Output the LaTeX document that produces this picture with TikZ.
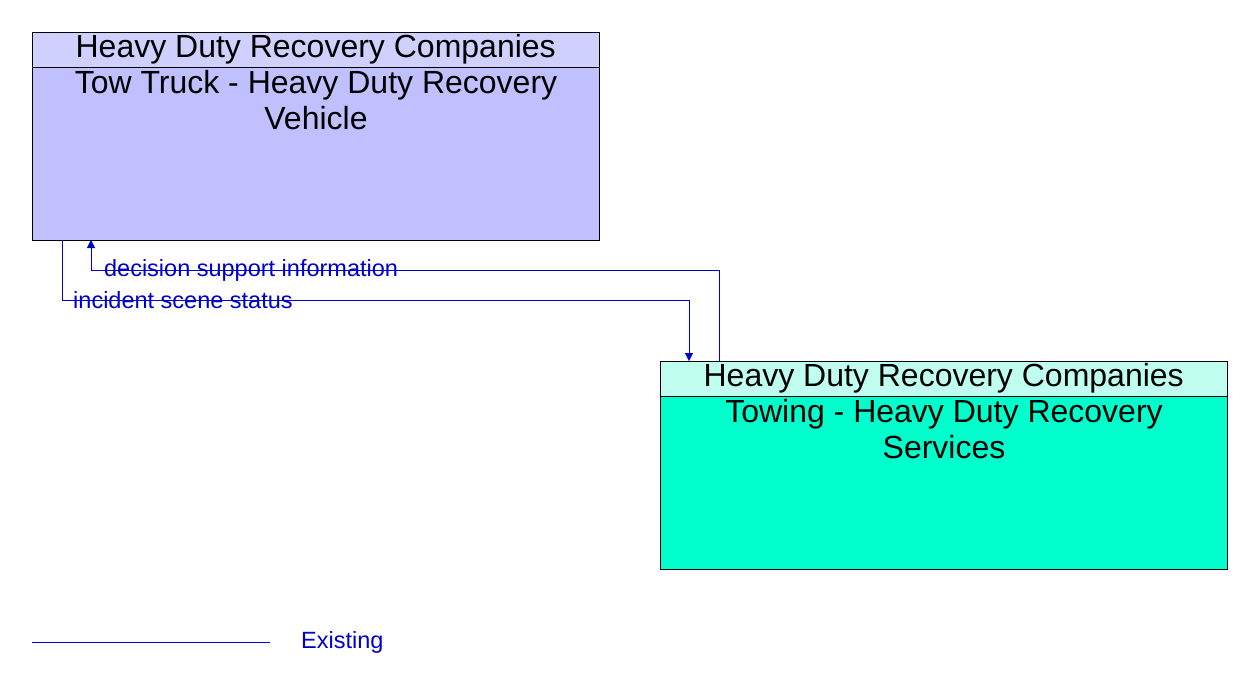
\documentclass[tikz,border=0pt]{standalone}
\usepackage{fontspec}
\setmainfont{Liberation Sans}
\usetikzlibrary{positioning,arrows.meta}
\definecolor{vehhead}{RGB}{208,208,255}
\definecolor{vehbody}{RGB}{192,192,255}
\definecolor{svchead}{RGB}{192,255,240}
\definecolor{svcbody}{RGB}{0,255,204}
\definecolor{flowblue}{RGB}{0,0,205}
\tikzset{
      headr/.style={
          rectangle,
          draw=black,
          anchor=north west,
          minimum width=567pt,
          minimum height=35pt,
          inner sep=0pt,
          font=\fontsize{32}{34}\selectfont
      },
      bodyr/.style={
          rectangle,
          draw=black,
          anchor=north west,
          minimum width=567pt,
          minimum height=173pt,
          inner sep=0pt
      },
      namer/.style={
          anchor=north,
          align=center,
          inner sep=0pt,
          font=\fontsize{32}{36}\selectfont
      },
      flow/.style={
          draw=flowblue,
          -{Triangle[length=8pt,width=8pt]}
      },
      flowlbl/.style={
          text=flowblue,
          inner sep=1pt,
          font=\fontsize{23.5}{25}\selectfont
      }
  }
\begin{document}
\begin{tikzpicture}[x=1pt,y=-1pt]
    \useasboundingbox (0,0) rectangle (1252,688);

    \node [bodyr, fill=vehbody] (vehb) at (32,67) {};
    \node [headr, fill=vehhead] (vehh) at (32,32) {Heavy Duty Recovery Companies};
    \node [namer] (vehn) at (316,70) {Tow Truck - Heavy Duty Recovery\\Vehicle};

    \node [bodyr, fill=svcbody] (svcb) at (660,396) {};
    \node [headr, fill=svchead] (svch) at (660,361) {Heavy Duty Recovery Companies};
    \node [namer] (svcn) at (944,399) {Towing - Heavy Duty Recovery\\Services};

    %%
    \coordinate (d1) at (719,361);
    \coordinate (d2) at (91,240);
    \coordinate (s1) at (62,240);
    \coordinate (s2) at (689,361);
    \draw[flow] (d1) -- (719,270) -- node[flowlbl, pos=0.981, anchor=west]{decision support information} (91,270) -- (d2);
    \draw[flow] (s1) -- (62,300) -- node[flowlbl, pos=0.016, anchor=west]{incident scene status} (689,300) -- (s2);
    %%

    \coordinate (lg1) at (32,642);
    \coordinate (lg2) at (270,642);
    \draw[flowblue] (lg1) -- (lg2);
    \node [flowlbl, right=30pt of lg2] (lgt) {Existing};
\end{tikzpicture}
\end{document}
